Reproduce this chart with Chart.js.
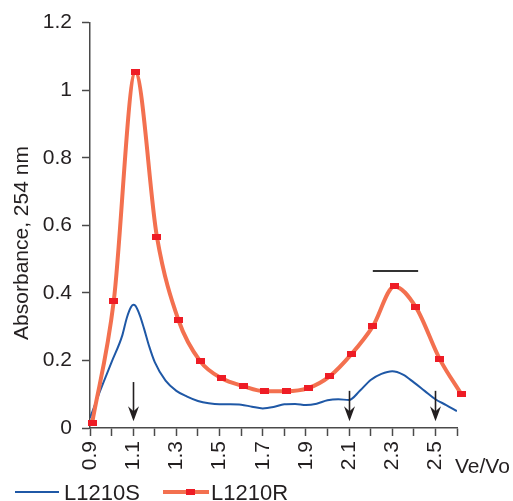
<!DOCTYPE html>
<html>
<head>
<meta charset="utf-8">
<script src="https://cdn.jsdelivr.net/npm/chart.js@4/dist/chart.umd.min.js"></script>
<style>
    html, body { margin: 0; padding: 0; background: #fff; }
</style>
</head>
<body>
<canvas id="myChart" width="513" height="501"></canvas>
<script>
// L1210S (blue trace)
let sX = [0.9, 0.95, 1.0, 1.05, 1.07, 1.09, 1.1, 1.11, 1.13, 1.15, 1.175, 1.2, 1.25, 1.3, 1.35, 1.4, 1.45, 1.5, 1.55, 1.6, 1.65, 1.7, 1.75,
          1.8, 1.85, 1.9, 1.95, 2.0, 2.05, 2.1, 2.15, 2.2, 2.25, 2.3, 2.35, 2.4, 2.45, 2.5, 2.55, 2.6];
let sY = [0.03, 0.115, 0.195, 0.275, 0.325, 0.358, 0.365, 0.362, 0.335, 0.295, 0.24, 0.195, 0.14, 0.11, 0.093, 0.08, 0.073, 0.07, 0.07, 0.069, 0.063, 0.058, 0.062,
          0.07, 0.071, 0.068, 0.072, 0.082, 0.085, 0.083, 0.11, 0.142, 0.16, 0.168, 0.158, 0.135, 0.11, 0.085, 0.068, 0.05];
// L1210R (orange trace with markers)
let rX = [0.91, 1.01, 1.11, 1.21, 1.31, 1.41, 1.51, 1.61, 1.71, 1.81, 1.91, 2.01, 2.11, 2.21, 2.31, 2.41, 2.52, 2.62];
let rY = [0.015, 0.375, 1.053, 0.566, 0.319, 0.198, 0.147, 0.124, 0.109, 0.109, 0.118, 0.153, 0.218, 0.301, 0.419, 0.357, 0.204, 0.1];

let xTicks = [0.9, 1.0, 1.1, 1.2, 1.3, 1.4, 1.5, 1.6, 1.7, 1.8, 1.9, 2.0, 2.1, 2.2, 2.3, 2.4, 2.5, 2.6];
let yTicks = [0, 0.2, 0.4, 0.6, 0.8, 1, 1.2];
let arrowsX = [1.1, 2.1, 2.5];
let arrowsTop = [0.136, 0.11, 0.11];
let barRange = [2.21, 2.42];
let barY = 0.466;

let seriesNames = ["L1210S", "L1210R"];
let blue = '#1f58a6';
let orange = '#f3704f';
let red = '#ee1c25';
let textColor = '#231f20';
let axisColor = '#4a4a4a';
let font = "'Liberation Sans', Arial, sans-serif";

function toPoints(xs, ys) {
    let pts = [];
    for (let i = 0; i < xs.length; i++) pts.push({x: xs[i], y: ys[i]});
    return pts;
}

// small red rectangular marker
let marker = document.createElement('canvas');
marker.width = 9;
marker.height = 6;
let mctx = marker.getContext('2d');
mctx.fillStyle = red;
mctx.fillRect(0, 0, 9, 6);

let extras = {
    id: 'extras',
    afterDraw(chart) {
        let ctx = chart.ctx;
        let xs = chart.scales.x, ys = chart.scales.y;
        ctx.save();

        // arrows
        ctx.strokeStyle = textColor;
        ctx.fillStyle = textColor;
        ctx.lineWidth = 1.6;
        for (let i = 0; i < arrowsX.length; i++) {
            let px = Math.round(xs.getPixelForValue(arrowsX[i])) + 0.5;
            let top = ys.getPixelForValue(arrowsTop[i]);
            let tip = ys.getPixelForValue(0.02);
            ctx.beginPath();
            ctx.moveTo(px, top);
            ctx.lineTo(px, tip - 8);
            ctx.stroke();
            ctx.beginPath();
            ctx.moveTo(px, tip);
            ctx.lineTo(px - 5.5, tip - 15);
            ctx.lineTo(px, tip - 10);
            ctx.lineTo(px + 5.5, tip - 15);
            ctx.closePath();
            ctx.fill();
        }

        // horizontal bar over the second peak
        ctx.lineWidth = 2;
        ctx.strokeStyle = '#333';
        let by = Math.round(ys.getPixelForValue(barY));
        ctx.beginPath();
        ctx.moveTo(xs.getPixelForValue(barRange[0]), by);
        ctx.lineTo(xs.getPixelForValue(barRange[1]), by);
        ctx.stroke();

        // axis titles
        ctx.fillStyle = textColor;
        ctx.font = '21px ' + font;
        ctx.textAlign = 'left';
        ctx.textBaseline = 'alphabetic';
        ctx.fillText('Ve/Vo', 455, 473);

        ctx.save();
        ctx.translate(28, 243);
        ctx.rotate(-Math.PI / 2);
        ctx.textAlign = 'center';
        ctx.fillText('Absorbance, 254 nm', 0, 0);
        ctx.restore();

        // legend
        ctx.font = '22px ' + font;
        ctx.textAlign = 'left';
        ctx.strokeStyle = blue;
        ctx.lineWidth = 2;
        ctx.beginPath();
        ctx.moveTo(15, 492);
        ctx.lineTo(59, 492);
        ctx.stroke();
        ctx.fillText(seriesNames[0], 64, 500);

        ctx.strokeStyle = orange;
        ctx.lineWidth = 4;
        ctx.beginPath();
        ctx.moveTo(163, 492);
        ctx.lineTo(209, 492);
        ctx.stroke();
        ctx.drawImage(marker, 186, 489);
        ctx.fillText(seriesNames[1], 211, 500);

        ctx.restore();
    }
};

let canvas = document.getElementById('myChart');
let chart = new Chart(canvas, {
    type: 'line',
    data: {
        datasets: [
            {
                label: seriesNames[0],
                data: toPoints(sX, sY),
                borderColor: blue,
                borderWidth: 2,
                pointRadius: 0,
                cubicInterpolationMode: 'monotone',
                order: 2
            },
            {
                label: seriesNames[1],
                data: toPoints(rX, rY),
                borderColor: orange,
                borderWidth: 4,
                pointStyle: marker,
                pointRadius: 5,
                cubicInterpolationMode: 'monotone',
                clip: false,
                order: 1
            }
        ]
    },
    options: {
        responsive: false,
        animation: false,
        layout: {
            padding: {left: 0, right: 56, top: 21, bottom: 0}
        },
        plugins: {
            legend: {display: false},
            tooltip: {enabled: false}
        },
        scales: {
            x: {
                type: 'linear',
                min: 0.9,
                max: 2.6,
                afterBuildTicks: function (axis) {
                    axis.ticks = xTicks.map(v => ({value: v}));
                },
                afterFit: function (axis) {
                    axis.height = 73;
                },
                grid: {
                    drawOnChartArea: false,
                    drawTicks: true,
                    tickLength: 8,
                    tickColor: axisColor,
                    tickWidth: 1.5
                },
                border: {color: axisColor, width: 1.5},
                ticks: {
                    autoSkip: false,
                    minRotation: 90,
                    maxRotation: 90,
                    padding: 5,
                    color: textColor,
                    font: {family: font, size: 21},
                    callback: function (value, index) {
                        if (index % 2 === 0 && index <= 16) return xTicks[index].toFixed(1);
                        return '';
                    }
                }
            },
            y: {
                min: 0,
                max: 1.2,
                afterBuildTicks: function (axis) {
                    axis.ticks = yTicks.map(v => ({value: v}));
                },
                afterFit: function (axis) {
                    axis.width = 90;
                },
                grid: {
                    drawOnChartArea: false,
                    drawTicks: true,
                    tickLength: 8,
                    tickColor: axisColor,
                    tickWidth: 1.5
                },
                border: {color: axisColor, width: 1.5},
                ticks: {
                    padding: 10,
                    color: textColor,
                    font: {family: font, size: 21},
                    callback: function (value) {
                        return value === 0 || value === 1 ? String(value) : value.toFixed(1);
                    }
                }
            }
        }
    },
    plugins: [extras]
});
</script>
</body>
</html>
